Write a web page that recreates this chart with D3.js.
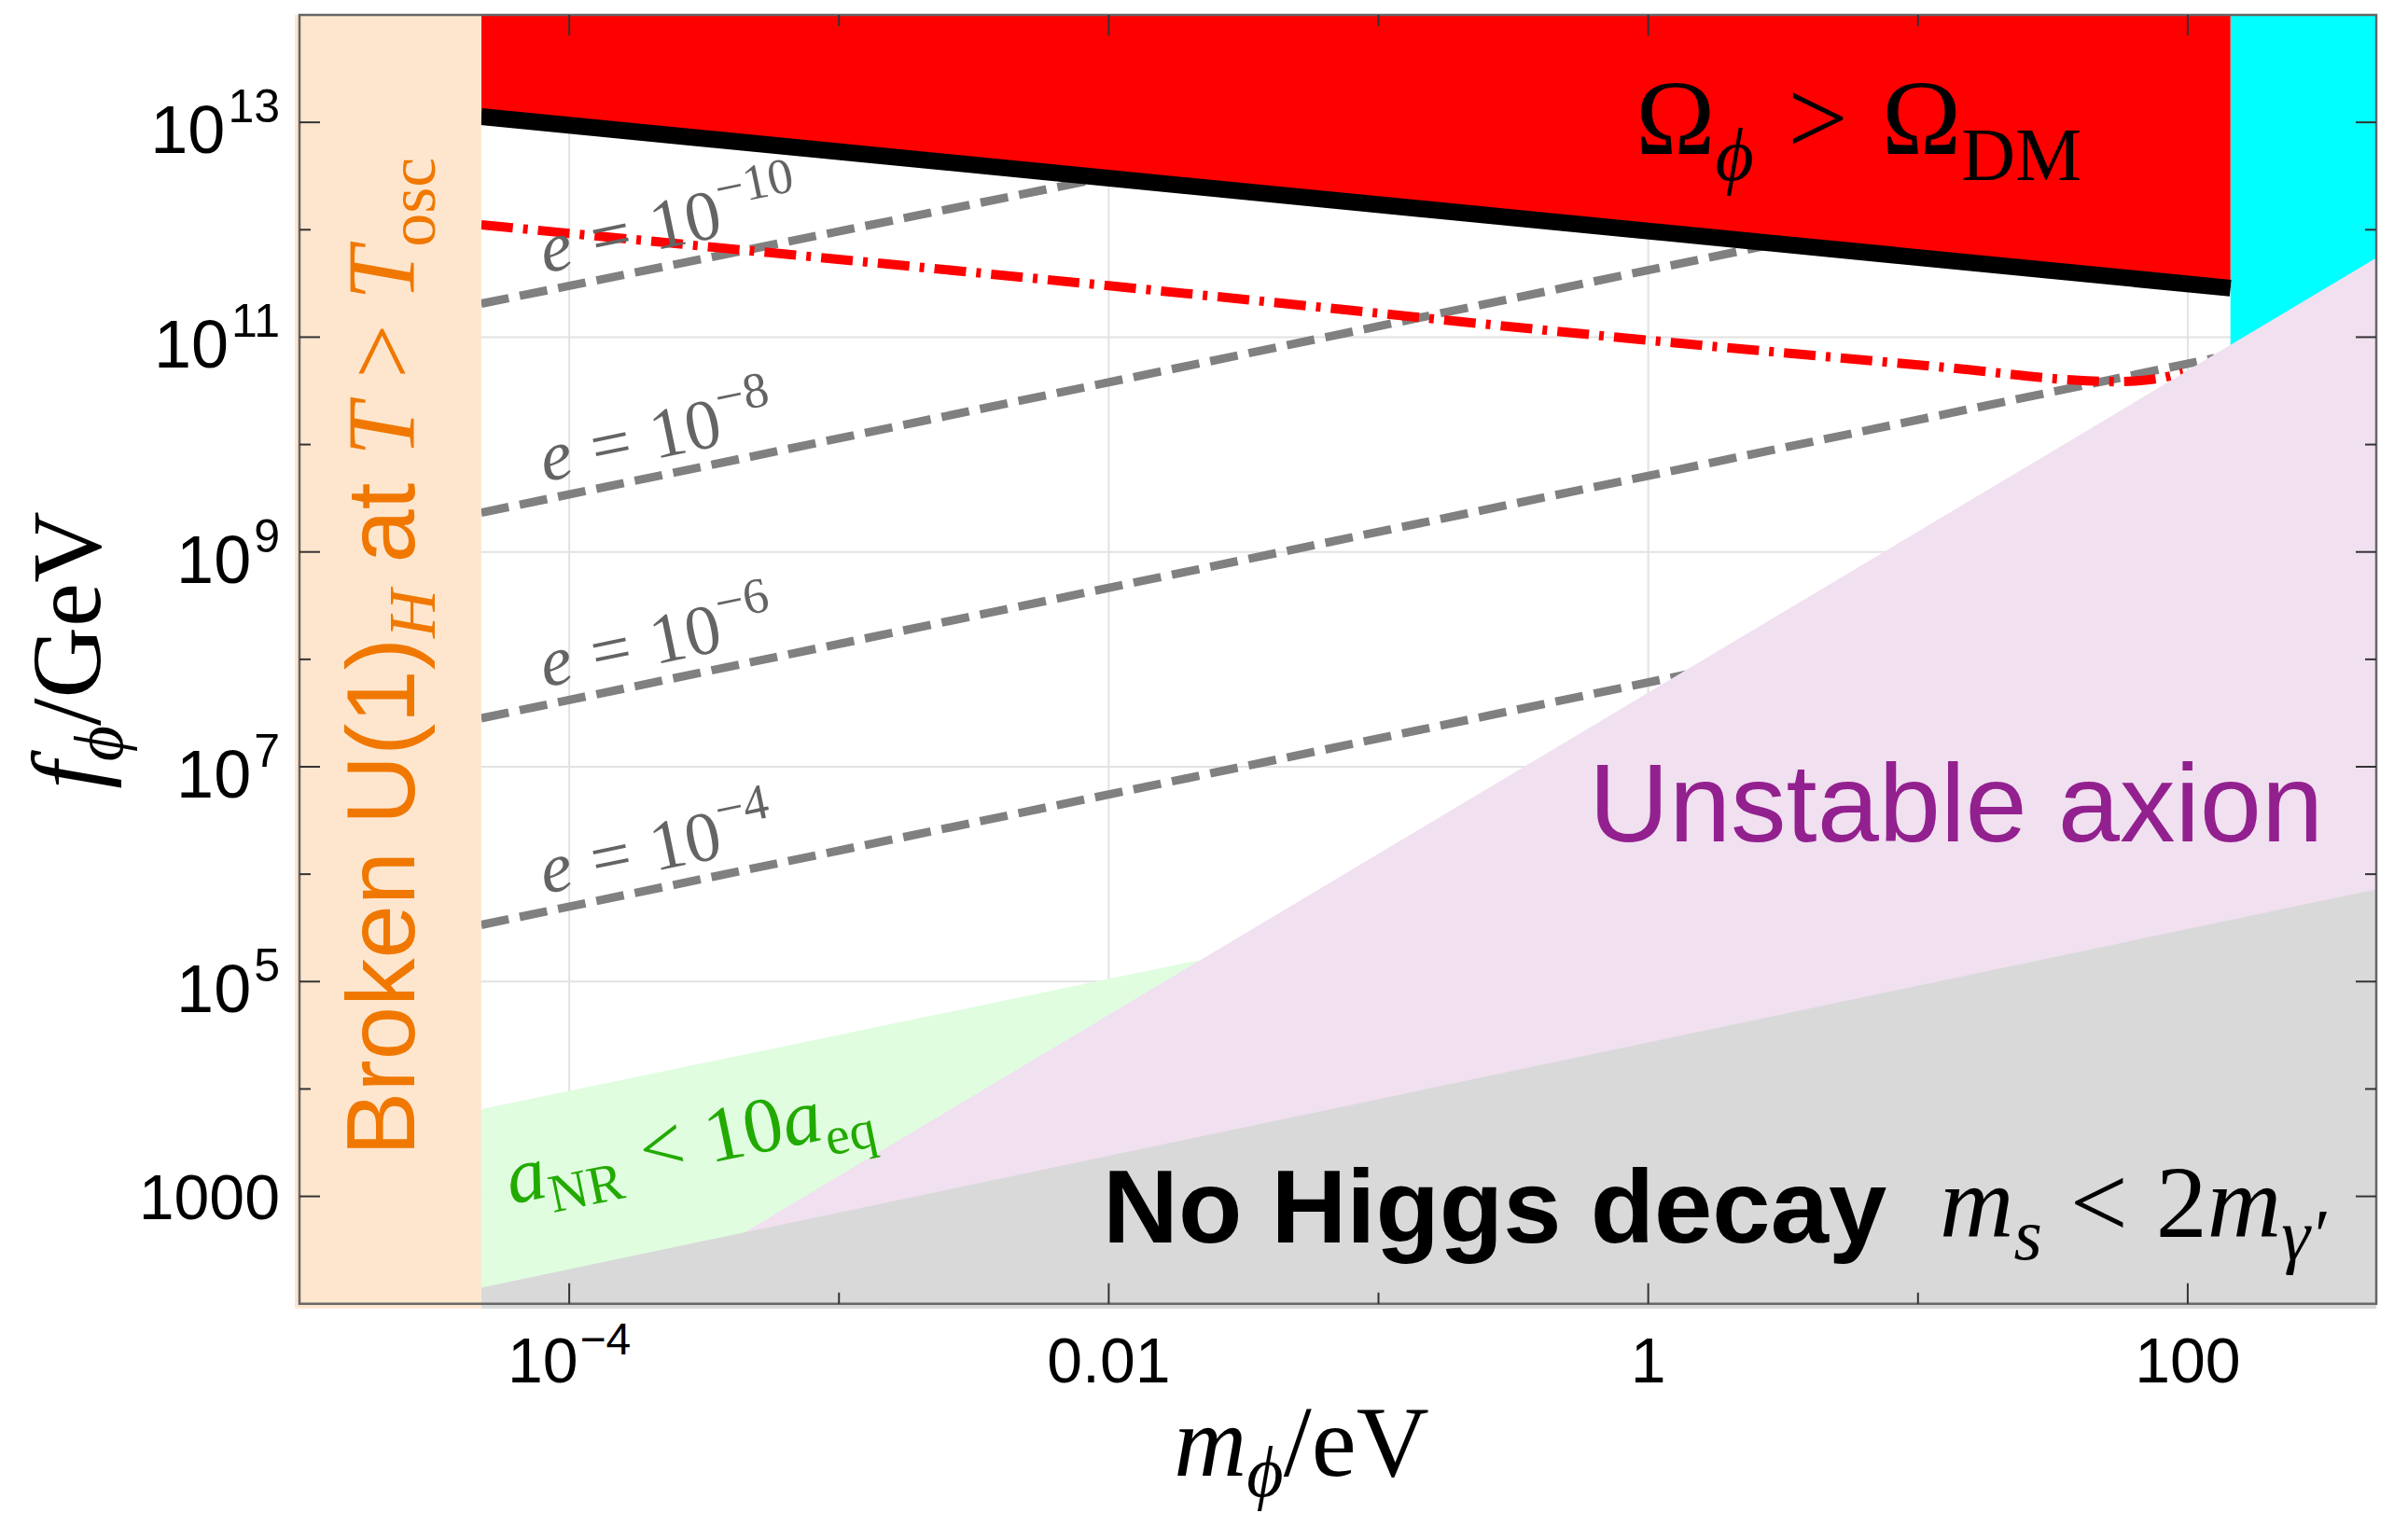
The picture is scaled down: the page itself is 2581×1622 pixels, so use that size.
<!DOCTYPE html>
<html>
<head>
<meta charset="utf-8">
<script src="https://cdn.jsdelivr.net/npm/d3@7"></script>
<style>
  body { margin: 0; background: #fff; }
  svg { display: block; }
</style>
</head>
<body>
<svg id="chart" width="2581" height="1622"></svg>
<script>
// ---- data (m in eV, f in GeV) ----
const xMajorTicks = [1e-4, 1e-2, 1, 100];
const xTickLabels = [['10', '\u22124'], ['0.01', ''], ['1', ''], ['100', '']];
const xMinorTicks = [1e-3, 1e-1, 10];
const yMajorTicks = [1e3, 1e5, 1e7, 1e9, 1e11, 1e13];
const yTickLabels = [['1000', ''], ['10', '5'], ['10', '7'], ['10', '9'], ['10', '11'], ['10', '13']];
const yMinorTicks = [1e4, 1e6, 1e8, 1e10, 1e12];

// broken U(1)_H band and cyan band edges
const brokenEdgeM = 4.72e-5;
const cyanEdgeM = 144;

// relic abundance line (black), red region above it
const relicM = [4.72e-5, 144];
const relicF = [1.13e13, 2.86e11];

// red dot-dashed curve
const dashDotM = [4.72e-5, 1.0e-2, 1.31, 13.6, 41.1, 54.3, 74.6, 96.2];
const dashDotF = [1.11e12, 3.01e11, 8.77e10, 5.13e10, 3.94e10, 3.85e10, 4.06e10, 4.65e10];

// constant-e lines (gray dashed)
const eExponents = ['\u221210', '\u22128', '\u22126', '\u22124'];
const eLineM = [[4.72e-5, 1.12e-2], [4.72e-5, 3.16], [4.72e-5, 126], [4.72e-5, 1.41]];
const eLineF = [[2.05e11, 3.3e12], [2.32e9, 7.66e11], [2.83e7, 6.38e10], [3.37e5, 7.3e7]];
const eLabelM = [10 ** -4.09, 10 ** -4.09, 10 ** -4.09, 10 ** -4.09];

// unstable axion boundary (purple region below/right)
const unstableM = [1.61e-4, 500];
const unstableF = [1e2, 5.47e11];

// no Higgs decay boundary (gray region below)
const higgsM = [4.72e-5, 500];
const higgsF = [1.41e2, 7.21e5];

// a_NR < 10 a_eq boundary (green region below)
const nrM = [4.72e-5, 2.15e-2];
const nrF = [6.49e3, 1.58e5];

// ---- layout ----
const SERIF = '"Liberation Serif", "Times New Roman", serif';
const SANS = '"Liberation Sans", Arial, Helvetica, sans-serif';
const pLeft = 321, pRight = 2547, pTop = 16, pBottom = 1397.7;

const x = d3.scaleLog().domain([1e-5, 500]).range([pLeft, pRight]);
const y = d3.scaleLog().domain([1e2, 1e14]).range([pBottom, pTop]);
const [mMin, mMax] = x.domain();
const [fMin, fMax] = y.domain();

const svg = d3.select('#chart');

svg.append('defs').append('clipPath').attr('id', 'plotclip')
  .append('rect')
  .attr('x', pLeft - 5).attr('y', pTop)
  .attr('width', pRight - pLeft + 5).attr('height', pBottom - pTop + 5);

const pts = (ms, fs) => ms.map((m, i) => [x(m), y(fs[i])]);
const line = d3.line();

// grid
const grid = svg.append('g').attr('stroke', '#e2e2e2').attr('stroke-width', 2);
grid.selectAll('.gx').data(xMajorTicks).enter().append('line')
  .attr('x1', d => x(d)).attr('x2', d => x(d)).attr('y1', pTop).attr('y2', pBottom);
grid.selectAll('.gy').data(yMajorTicks).enter().append('line')
  .attr('y1', d => y(d)).attr('y2', d => y(d)).attr('x1', pLeft).attr('x2', pRight);

const plot = svg.append('g').attr('clip-path', 'url(#plotclip)');

// green a_NR region
plot.append('path')
  .attr('d', line(pts([nrM[0], nrM[1], nrM[1], nrM[0]], [nrF[0], nrF[1], fMin / 2, fMin / 2])) + 'Z')
  .attr('fill', '#e0fde0');

// constant-e lines
eLineM.forEach((ms, i) => {
  plot.append('path')
    .attr('d', line(pts(ms, eLineF[i])))
    .attr('fill', 'none')
    .attr('stroke', '#808080')
    .attr('stroke-width', 9)
    .attr('stroke-dasharray', '30,12');
});

// red dot-dashed curve
plot.append('path')
  .attr('d', d3.line().curve(d3.curveMonotoneX)(pts(dashDotM, dashDotF)))
  .attr('fill', 'none')
  .attr('stroke', '#ff0000')
  .attr('stroke-width', 10)
  .attr('stroke-dasharray', '34,11,5,11');

// cyan band
plot.append('rect')
  .attr('x', x(cyanEdgeM)).attr('y', y(fMax))
  .attr('width', x(mMax) - x(cyanEdgeM) + 5).attr('height', y(fMin) - y(fMax) + 5)
  .attr('fill', '#00ffff');

// unstable axion (purple)
plot.append('path')
  .attr('d', line(pts([unstableM[0], unstableM[1], unstableM[1] * 2], [unstableF[0], unstableF[1], fMin / 2])) + 'Z')
  .attr('fill', '#f0e0f0');

// no Higgs decay (gray)
plot.append('path')
  .attr('d', line(pts([higgsM[0], higgsM[1], higgsM[1] * 2, higgsM[0]], [higgsF[0], higgsF[1], fMin / 2, fMin / 2])) + 'Z')
  .attr('fill', '#d9d9d9');

// overabundance region (red) and relic line (black)
plot.append('path')
  .attr('d', line(pts([relicM[0], relicM[1], relicM[1], relicM[0]], [fMax, fMax, relicF[1], relicF[0]])) + 'Z')
  .attr('fill', '#ff0000');
plot.append('path')
  .attr('d', line(pts(relicM, relicF)))
  .attr('fill', 'none')
  .attr('stroke', '#000')
  .attr('stroke-width', 18);

// broken U(1)_H band
plot.append('rect')
  .attr('x', x(mMin) - 5).attr('y', y(fMax))
  .attr('width', x(brokenEdgeM) - x(mMin) + 5).attr('height', y(fMin) - y(fMax) + 5)
  .attr('fill', '#fee6ce');

// frame
svg.append('rect')
  .attr('x', pLeft).attr('y', pTop).attr('width', pRight - pLeft).attr('height', pBottom - pTop)
  .attr('fill', 'none').attr('stroke', '#666').attr('stroke-width', 2.5);

// ticks on all four sides
const ticks = svg.append('g').attr('stroke', '#333').attr('stroke-width', 2);
const tickSet = (vals, len) => {
  vals.forEach(v => {
    ticks.append('line').attr('x1', x(v)).attr('x2', x(v)).attr('y1', pBottom).attr('y2', pBottom - len);
    ticks.append('line').attr('x1', x(v)).attr('x2', x(v)).attr('y1', pTop).attr('y2', pTop + len);
  });
};
tickSet(xMajorTicks, 22);
tickSet(xMinorTicks, 12);
const tickSetY = (vals, len) => {
  vals.forEach(v => {
    ticks.append('line').attr('y1', y(v)).attr('y2', y(v)).attr('x1', pLeft).attr('x2', pLeft + len);
    ticks.append('line').attr('y1', y(v)).attr('y2', y(v)).attr('x1', pRight).attr('x2', pRight - len);
  });
};
tickSetY(yMajorTicks, 22);
tickSetY(yMinorTicks, 12);

// rich text helper: parts = [{t, size, shift, italic, family, dx}]
function rich(parent, px, py, parts, o) {
  const t = parent.append('text')
    .attr('x', px).attr('y', py)
    .attr('fill', o.fill || '#000')
    .attr('font-size', o.size)
    .attr('font-family', o.family || SERIF)
    .attr('text-anchor', o.anchor || 'start');
  if (o.weight) t.attr('font-weight', o.weight);
  if (o.rotate) t.attr('transform', `rotate(${o.rotate},${px},${py})`);
  let cur = 0;
  parts.forEach(p => {
    const s = t.append('tspan').text(p.t);
    const shift = p.shift || 0;
    if (shift !== cur) s.attr('dy', shift - cur);
    cur = shift;
    if (p.size) s.attr('font-size', p.size);
    if (p.italic) s.attr('font-style', 'italic');
    if (p.family) s.attr('font-family', p.family);
    if (p.dx) s.attr('dx', p.dx);
  });
  return t;
}

// tick labels
const lab = svg.append('g');
xMajorTicks.forEach((v, i) => {
  const [base, sup] = xTickLabels[i];
  const parts = [{ t: base }];
  if (sup) parts.push({ t: sup, size: 48, shift: -30, dx: 2 });
  rich(lab, x(v), 1482, parts, { size: 68, family: SANS, anchor: 'middle' });
});
yMajorTicks.forEach((v, i) => {
  const [base, sup] = yTickLabels[i];
  const parts = [{ t: base, size: sup ? 72 : 68 }];
  if (sup) parts.push({ t: sup, size: 50, shift: -33, dx: 3 });
  rich(lab, 300, y(v) + (sup ? 33 : 24), parts, { size: 68, family: SANS, anchor: 'end' });
});

// axis titles
rich(svg, 1395, 1582, [
  { t: 'm', italic: true },
  { t: '\u03d5', italic: true, size: 76, shift: 22 },
  { t: '/eV', shift: 0 }
], { size: 108, anchor: 'middle' });
rich(svg, 107, 697, [
  { t: 'f', italic: true },
  { t: '\u03d5', italic: true, size: 74, shift: 24 },
  { t: '/GeV', shift: 0 }
], { size: 106, anchor: 'middle', rotate: -90 });

// region labels
const ang = -Math.atan((0.52 * (y(1) - y(10))) / (x(10) - x(1))) * 180 / Math.PI;

rich(svg, 1753, 165, [
  { t: '\u03a9' },
  { t: '\u03d5', italic: true, size: 80, shift: 28 },
  { t: '>', shift: 0, dx: 36 },
  { t: '\u03a9', dx: 36 },
  { t: 'DM', size: 80, shift: 28 }
], { size: 115 });

rich(svg, 1703, 902, [{ t: 'Unstable axion' }],
  { size: 119, family: SANS, fill: '#93208f' });

rich(svg, 1182, 1332, [{ t: 'No Higgs decay' }],
  { size: 112, family: SANS, weight: 'bold' });

rich(svg, 2079, 1326, [
  { t: 'm', italic: true },
  { t: 's', italic: true, size: 78, shift: 24 },
  { t: '<', shift: 0, dx: 30 },
  { t: '2', dx: 30 },
  { t: 'm', italic: true },
  { t: '\u03b3\u2032', italic: true, size: 78, shift: 24 }
], { size: 110 });

rich(svg, 548, 1291, [
  { t: 'a', italic: true },
  { t: 'NR', size: 58, shift: 18 },
  { t: '<', shift: 0, dx: 24 },
  { t: '10', dx: 24 },
  { t: 'a', italic: true },
  { t: 'eq', size: 58, shift: 18 }
], { size: 84, fill: '#22aa00', rotate: ang });

rich(svg, 444, 704, [
  { t: 'Broken U(1)', family: SANS },
  { t: 'H', italic: true, size: 72, shift: 22 },
  { t: ' at ', family: SANS, shift: 0 },
  { t: 'T', italic: true },
  { t: ' > ' },
  { t: 'T', italic: true },
  { t: 'osc', size: 72, shift: 22 }
], { size: 103, fill: '#f07800', anchor: 'middle', rotate: -90 });

// e labels
eLineM.forEach((ms, i) => {
  const m0 = eLabelM[i];
  const slope = Math.log10(eLineF[i][1] / eLineF[i][0]) / Math.log10(ms[1] / ms[0]);
  const fAt = eLineF[i][0] * Math.pow(m0 / ms[0], slope);
  rich(svg, x(m0), y(fAt) - 19, [
    { t: 'e', italic: true },
    { t: '=', dx: 22 },
    { t: '10', dx: 22 },
    { t: eExponents[i], size: 54, shift: -32 }
  ], { size: 76, fill: '#646464', rotate: ang });
});
</script>
</body>
</html>
